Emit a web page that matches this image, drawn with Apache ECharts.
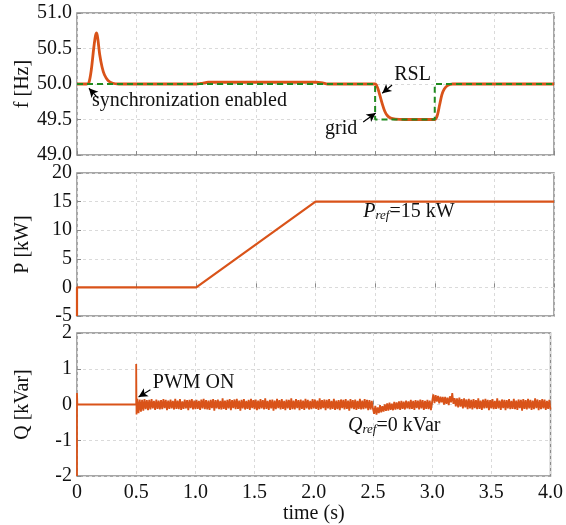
<!DOCTYPE html>
<html>
<head>
<meta charset="utf-8">
<script src="https://cdn.jsdelivr.net/npm/echarts@6/dist/echarts.min.js"></script>
<style>
  html, body { margin: 0; padding: 0; background: #fff; }
  #chart { width: 566px; height: 525px; }
</style>
</head>
<body>
<div id="chart"></div>
<script>
// Time ticks shared by the three panels
const timeTicks = [0, 0.5, 1.0, 1.5, 2.0, 2.5, 3.0, 3.5, 4.0];

// Frequency of the RSL converter [t (s), f (Hz)]
const freqRSL = [
  [0, 50.0], [0.08, 50.0], [0.10, 50.02], [0.12, 50.2], [0.14, 50.5], [0.155, 50.68],
  [0.165, 50.72], [0.175, 50.63], [0.19, 50.42], [0.21, 50.24], [0.23, 50.13],
  [0.26, 50.05], [0.30, 50.01], [0.35, 50.0], [1.0, 50.0], [1.05, 50.01], [1.1, 50.025],
  [2.0, 50.025], [2.06, 50.015], [2.1, 50.0], [2.5, 50.0], [2.52, 49.95], [2.54, 49.84],
  [2.56, 49.72], [2.58, 49.62], [2.6, 49.56], [2.63, 49.52], [2.67, 49.505], [2.75, 49.5],
  [3.0, 49.5], [3.02, 49.55], [3.04, 49.7], [3.06, 49.85], [3.08, 49.93], [3.11, 49.98],
  [3.15, 50.0], [4.0, 50.0]
];

// Grid frequency [t (s), f (Hz)]
const freqGrid = [[0, 50.0], [2.5, 50.0], [2.5, 49.5], [3.0, 49.5], [3.0, 50.0], [4.0, 50.0]];

// Active power [t (s), P (kW)]
const powerP = [[0, -5], [0, 0], [0.5, 0], [1.0, 0], [2.0, 15], [4.0, 15]];

// Reactive power before switching and at PWM start [t (s), Q (kVar)]
const powerQStart = [[0, -2.0], [0, 0.32], [0.003, 0], [0.5, 0], [0.5, 1.13], [0.503, -0.28]];

// Reactive power after PWM start, one sample per 10 ms from 0.51 s to 4.00 s (kVar)
const qStart = 0.51;
const qStep = 0.01;
const powerQRipple = [
  0.16,-0.24,0.14,-0.20,0.13,-0.17,0.15,-0.13,0.12,-0.16,
  0.13,-0.14,0.15,-0.11,0.10,-0.15,0.14,-0.12,0.11,-0.14,
  0.12,-0.13,0.15,-0.10,0.13,-0.16,0.11,-0.12,0.14,-0.11,
  0.10,-0.14,0.16,-0.12,0.11,-0.13,0.15,-0.15,0.09,-0.12,
  0.14,-0.11,0.12,-0.16,0.13,-0.10,0.15,-0.14,0.11,-0.13,
  0.13,-0.12,0.10,-0.15,0.14,-0.11,0.16,-0.13,0.12,-0.14,
  0.11,-0.15,0.13,-0.10,0.15,-0.17,0.12,-0.11,0.14,-0.13,
  0.10,-0.14,0.17,-0.12,0.11,-0.15,0.13,-0.11,0.15,-0.16,
  0.12,-0.10,0.14,-0.13,0.16,-0.12,0.11,-0.17,0.13,-0.11,
  0.15,-0.14,0.10,-0.12,0.13,-0.15,0.16,-0.10,0.12,-0.13,
  0.14,-0.16,0.11,-0.13,0.15,-0.11,0.12,-0.14,0.17,-0.12,
  0.10,-0.15,0.13,-0.11,0.14,-0.17,0.11,-0.13,0.16,-0.10,
  0.12,-0.14,0.15,-0.12,0.10,-0.16,0.14,-0.11,0.13,-0.15,
  0.17,-0.13,0.11,-0.14,0.15,-0.10,0.12,-0.16,0.14,-0.12,
  0.11,-0.15,0.16,-0.11,0.13,-0.14,0.10,-0.13,0.15,-0.11,
  0.14,-0.12,0.11,-0.15,0.17,-0.13,0.12,-0.10,0.14,-0.16,
  0.13,-0.11,0.15,-0.14,0.10,-0.12,0.16,-0.15,0.11,-0.13,
  0.12,-0.16,0.14,-0.10,0.13,-0.14,0.15,-0.12,0.11,-0.17,
  0.15,-0.11,0.12,-0.13,0.14,-0.15,0.10,-0.12,0.16,-0.14,
  0.11,-0.13,0.15,-0.11,0.13,-0.16,0.12,-0.14,0.10,-0.12,
  -0.26,-0.04,-0.28,-0.08,-0.24,-0.02,-0.22,-0.05,-0.20,0.00,
  -0.18,0.03,-0.17,0.05,-0.15,0.02,-0.16,0.07,-0.14,0.06,
  -0.13,0.09,-0.15,0.10,-0.12,0.08,-0.14,0.11,-0.11,0.09,
  -0.13,0.13,-0.12,0.10,-0.15,0.12,-0.10,0.11,-0.14,0.14,
  -0.11,0.12,-0.15,0.10,-0.12,0.13,-0.13,0.11,-0.16,0.09,
  0.28,0.04,0.26,0.08,0.24,0.03,0.22,0.06,0.21,0.00,
  0.21,0.02,0.19,-0.02,0.23,0.06,0.32,0.02,0.18,-0.05,
  0.17,-0.08,0.19,-0.06,0.15,-0.11,0.17,-0.08,0.14,-0.13,
  0.16,-0.11,0.13,-0.14,0.15,-0.10,0.12,-0.13,0.17,-0.12,
  0.11,-0.15,0.14,-0.11,0.16,-0.10,0.13,-0.16,0.12,-0.11,
  0.15,-0.13,0.10,-0.12,0.17,-0.11,0.11,-0.15,0.14,-0.10,
  0.13,-0.16,0.12,-0.11,0.15,-0.13,0.10,-0.12,0.16,-0.13,
  0.11,-0.15,0.14,-0.10,0.13,-0.17,0.15,-0.12,0.12,-0.14,
  0.16,-0.11,0.13,-0.15,0.11,-0.13,0.17,-0.10,0.14,-0.16,
  0.12,-0.13,0.15,-0.11,0.14,-0.15,0.10,-0.12,0.13,-0.14
];

// Axis tick labels
const fTicks = ['49.0', '49.5', '50.0', '50.5', '51.0'];
const pTicks = ['-5', '0', '5', '10', '15', '20'];
const qTicks = ['-2', '-1', '0', '1', '2'];

const FONT = '"Liberation Serif", "Times New Roman", serif';
const ORANGE = '#D95319';
const GREEN = '#1F8A1F';
const TXT = '#111';

const qSeries = powerQStart.concat(
  powerQRipple.map((v, i) => [+(qStart + i * qStep).toFixed(2), v])
);

const grids = [
  { left: 77, right: 12, top: 13, height: 142 },
  { left: 77, right: 12, top: 173, height: 143 },
  { left: 77, right: 12, top: 333, height: 143 }
].map(g => Object.assign(g, { show: true, borderColor: '#8a8a8a', borderWidth: 1.5, containLabel: false }));

function xAxisFor(idx, withLabels) {
  return {
    type: 'value', gridIndex: idx, min: timeTicks[0], max: timeTicks[timeTicks.length - 1], interval: 0.5,
    axisLine: { show: false },
    axisTick: { show: true, inside: true, length: 4, lineStyle: { color: '#8a8a8a' } },
    splitLine: { show: true, lineStyle: { color: '#dadada', type: [3, 3], width: 1 } },
    axisLabel: {
      show: withLabels, color: TXT, fontFamily: FONT, fontSize: 20, margin: 7,
      formatter: v => (v === 0 ? '0' : v.toFixed(1))
    },
    name: withLabels ? 'time (s)' : '',
    nameLocation: 'middle', nameGap: 22,
    nameTextStyle: { color: TXT, fontFamily: FONT, fontSize: 20 }
  };
}

function yAxisFor(idx, min, max, interval, labels, name) {
  return {
    type: 'value', gridIndex: idx, min: min, max: max, interval: interval,
    axisLine: { show: false },
    axisTick: { show: true, inside: true, length: 4, lineStyle: { color: '#8a8a8a' } },
    splitLine: { show: true, lineStyle: { color: '#dadada', type: [3, 3], width: 1 } },
    axisLabel: {
      color: TXT, fontFamily: FONT, fontSize: 20, margin: 5,
      formatter: v => labels[Math.round((v - min) / interval)]
    },
    name: name, nameLocation: 'middle', nameGap: 44, nameRotate: 90, nameMoveOverlap: false,
    nameTextStyle: { color: TXT, fontFamily: FONT, fontSize: 20 }
  };
}

const arrowStyle = { color: '#000', width: 1.2, type: 'solid' };

function note(coord, text) {
  return {
    coord: coord, symbol: 'circle', symbolSize: 0,
    label: {
      show: true, position: 'right', distance: 0, color: TXT, fontFamily: FONT, fontSize: 20,
      formatter: text,
      rich: {
        it: { fontFamily: FONT, fontSize: 20, fontStyle: 'italic', color: TXT },
        sub: { fontFamily: FONT, fontSize: 13, fontStyle: 'italic', color: TXT, verticalAlign: 'bottom', padding: [8, 0, 0, 0] },
        n: { fontFamily: FONT, fontSize: 20, color: TXT }
      }
    }
  };
}

function arrow(from, to) {
  return [{ coord: from }, { coord: to }];
}

const option = {
  animation: false,
  backgroundColor: '#fff',
  grid: grids,
  xAxis: [xAxisFor(0, false), xAxisFor(1, false), xAxisFor(2, true)],
  yAxis: [
    yAxisFor(0, 49, 51, 0.5, fTicks, 'f [Hz]'),
    yAxisFor(1, -5, 20, 5, pTicks, 'P [kW]'),
    yAxisFor(2, -2, 2, 1, qTicks, 'Q [kVar]')
  ],
  series: [
    {
      name: 'RSL', type: 'line', xAxisIndex: 0, yAxisIndex: 0, data: freqRSL,
      showSymbol: false, smooth: 0.3, lineStyle: { color: ORANGE, width: 2.8 }, z: 2,
      markPoint: {
        silent: true,
        data: [
          note([0.126, 49.76], 'synchronization enabled'),
          note([2.66, 50.13], 'RSL'),
          note([2.08, 49.37], 'grid')
        ]
      },
      markLine: {
        silent: true, symbol: ['none', 'arrow'], symbolSize: [7, 9], label: { show: false },
        lineStyle: arrowStyle,
        data: [
          arrow([0.176, 49.80], [0.10, 49.94]),
          arrow([2.642, 49.985], [2.56, 49.87]),
          arrow([2.40, 49.465], [2.505, 49.59])
        ]
      }
    },
    {
      name: 'grid', type: 'line', xAxisIndex: 0, yAxisIndex: 0, data: freqGrid,
      showSymbol: false, lineStyle: { color: GREEN, width: 2, type: [6, 4] }, z: 3
    },
    {
      name: 'P', type: 'line', xAxisIndex: 1, yAxisIndex: 1, data: powerP,
      showSymbol: false, lineStyle: { color: ORANGE, width: 2.2 },
      markPoint: {
        silent: true,
        data: [note([2.4, 13.2], '{it|P}{sub|ref}{n|=15 kW}')]
      }
    },
    {
      name: 'Q', type: 'line', xAxisIndex: 2, yAxisIndex: 2, data: qSeries,
      showSymbol: false, lineStyle: { color: ORANGE, width: 1.8 },
      markPoint: {
        silent: true,
        data: [
          note([0.64, 0.6], 'PWM ON'),
          note([2.29, -0.6], '{it|Q}{sub|ref}{n|=0 kVar}')
        ]
      },
      markLine: {
        silent: true, symbol: ['none', 'arrow'], symbolSize: [7, 9], label: { show: false },
        lineStyle: arrowStyle,
        data: [arrow([0.62, 0.41], [0.52, 0.21])]
      }
    }
  ]
};

const chart = echarts.init(document.getElementById('chart'), null, { renderer: 'canvas' });
chart.setOption(option);
</script>
</body>
</html>
